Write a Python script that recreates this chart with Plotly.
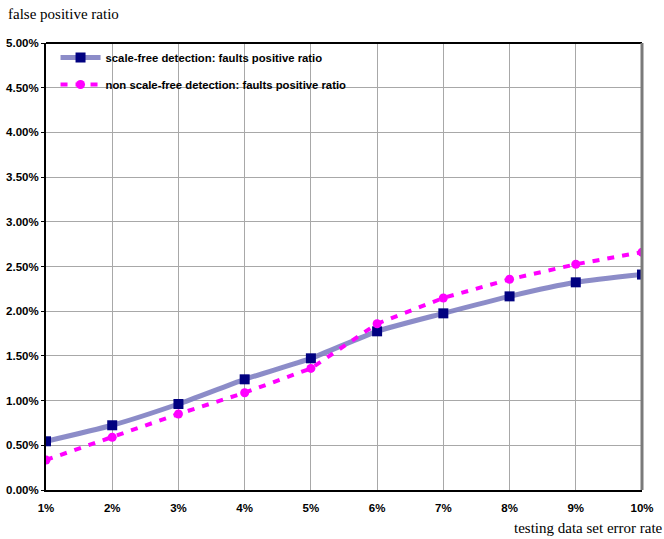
import plotly.graph_objects as go

# Testing data set error rate (%)
error_rate = [1, 2, 3, 4, 5, 6, 7, 8, 9, 10]
x_tick_labels = ["1%", "2%", "3%", "4%", "5%", "6%", "7%", "8%", "9%", "10%"]

# False positive ratio (%) for each detection method
scale_free = [0.545, 0.724, 0.962, 1.238, 1.473, 1.775, 1.976, 2.166, 2.323, 2.41]
non_scale_free = [0.336, 0.59, 0.85, 1.088, 1.36, 1.86, 2.148, 2.357, 2.525, 2.66]

y_ticks = [0, 0.5, 1.0, 1.5, 2.0, 2.5, 3.0, 3.5, 4.0, 4.5, 5.0]
y_tick_labels = ["%.2f%%" % v for v in y_ticks]

fig = go.Figure()

fig.add_trace(go.Scatter(
    x=error_rate, y=scale_free,
    mode="lines+markers",
    name="scale-free detection: faults positive ratio",
    legendgroup="sf",
    line=dict(color="rgba(120,120,190,0.85)", width=5, shape="spline", smoothing=0.6),
    marker=dict(symbol="square", size=10, color="#000080"),
))

fig.add_trace(go.Scatter(
    x=error_rate, y=non_scale_free,
    mode="lines+markers",
    name="non scale-free detection: faults positive ratio",
    legendgroup="nsf",
    line=dict(color="#ff00ff", width=4, dash="7px,8px"),
    marker=dict(symbol="circle", size=9, color="#ff00ff"),
))

tick_font = dict(family="Liberation Sans, Arial", size=11.5, color="black", weight="bold")

fig.update_layout(
    width=664, height=539,
    margin=dict(l=46, r=22, t=43, b=49),
    paper_bgcolor="white",
    plot_bgcolor="white",
    showlegend=True,
    legend=dict(
        x=0.016, y=1.0, xanchor="left", yanchor="top",
        bgcolor="rgba(255,255,255,0)",
        font=dict(family="Liberation Sans, Arial", size=11.3, color="black", weight="bold"),
        itemwidth=40,
        tracegroupgap=8,
    ),
    xaxis=dict(
        range=[1, 10],
        automargin=False,
        tickmode="array", tickvals=error_rate, ticktext=x_tick_labels,
        showgrid=True, gridcolor="#a8a8a8", gridwidth=1,
        showline=True, linecolor="black", linewidth=2,
        ticks="", ticklabelstandoff=6,
        tickfont=tick_font,
        zeroline=False,
    ),
    yaxis=dict(
        range=[0, 5],
        automargin=False,
        tickmode="array", tickvals=y_ticks, ticktext=y_tick_labels,
        showgrid=True, gridcolor="#a8a8a8", gridwidth=1,
        showline=True, linecolor="black", linewidth=2,
        ticks="outside", ticklen=3, tickcolor="black",
        tickfont=tick_font,
        zeroline=False,
    ),
    shapes=[
        dict(type="line", xref="paper", yref="paper", x0=0, x1=1, y0=1, y1=1,
             line=dict(color="black", width=2)),
        dict(type="line", xref="paper", yref="paper", x0=1, x1=1, y0=0, y1=1,
             line=dict(color="#7a7a7a", width=3)),
    ],
    annotations=[
        dict(text="false positive ratio", xref="paper", yref="paper",
             x=-0.067, y=1.088, xanchor="left", yanchor="top", showarrow=False,
             font=dict(family="Liberation Serif, Times New Roman", size=15, color="black")),
        dict(text="testing data set error rate", xref="paper", yref="paper",
             x=1.039, y=-0.062, xanchor="right", yanchor="top", showarrow=False,
             font=dict(family="Liberation Serif, Times New Roman", size=15, color="black")),
    ],
)

fig.write_html("out.html")
